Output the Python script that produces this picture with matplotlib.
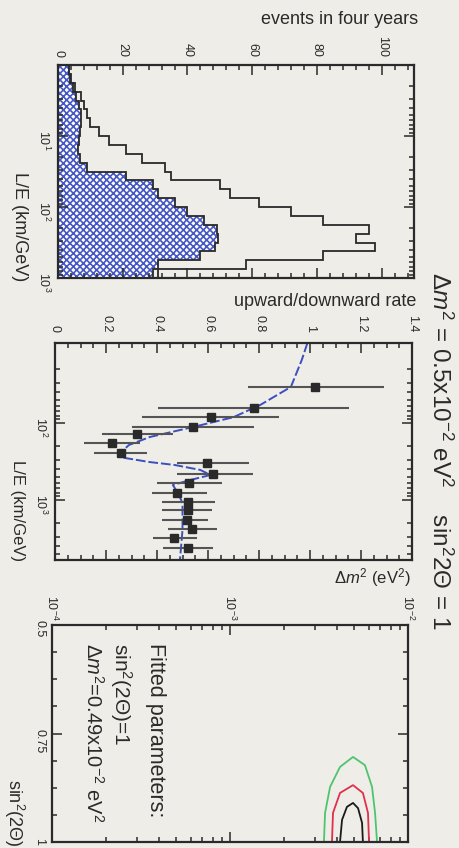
import numpy as np
import matplotlib
matplotlib.use("Agg")
import matplotlib.pyplot as plt
from matplotlib.ticker import MultipleLocator, FixedLocator, LogLocator, LogFormatterMathtext, NullFormatter

plt.rcParams["font.family"] = ["Liberation Sans", "DejaVu Sans"]
plt.rcParams["mathtext.fontset"] = "custom"
plt.rcParams["mathtext.rm"] = "Liberation Sans"
plt.rcParams["mathtext.it"] = "Liberation Sans:italic"
plt.rcParams["hatch.linewidth"] = 1.2

W, H = 459, 848
paper = "#efede8"
ink = "#2a2a2a"

# --- panel 1: events in four years, bins of 1/8 decade in L/E (km/GeV) from 1
le_edges = 10 ** np.arange(0, 3.001, 0.125)
all_events = [3.4, 4.0, 5.2, 7.0, 8.0, 9.0, 10.0, 12.6, 15.7, 21.0, 26.0, 33.0,
              35.0, 50.0, 53.0, 62.0, 72.0, 82.0, 96.0, 92.0, 98.0, 82.0, 58.0, 31.0]
up_events = [3.4, 3.7, 4.6, 5.5, 6.5, 7.0, 7.0, 6.8, 6.5, 6.2, 6.8, 9.0,
             21.0, 29.5, 31.0, 36.0, 40.0, 45.0, 49.0, 49.5, 48.6, 44.0, 31.0, 29.5]

# --- panel 2: upward/downward ratio vs L/E
ratio_le = [34, 64, 84, 113, 139, 182, 245, 330, 459, 601, 811, 1062,
            1349, 1820, 2382, 3119, 4198]
ratio_val = [1.02, 0.78, 0.61, 0.54, 0.32, 0.225, 0.257, 0.597, 0.621, 0.526,
             0.478, 0.522, 0.522, 0.518, 0.538, 0.466, 0.522]
ratio_lo = [0.755, 0.403, 0.340, 0.300, 0.186, 0.115, 0.154, 0.478, 0.478, 0.399,
            0.379, 0.419, 0.419, 0.419, 0.443, 0.383, 0.423]
ratio_hi = [1.292, 1.154, 0.877, 0.779, 0.462, 0.332, 0.360, 0.759, 0.775, 0.656,
            0.597, 0.628, 0.617, 0.601, 0.636, 0.557, 0.621]
curve_le = [9.1, 15.1, 34, 58, 84, 113, 152, 193, 238, 277, 321, 351, 407, 473,
            550, 638, 811, 1094, 2455, 6012]
curve_val = [0.99, 0.968, 0.925, 0.806, 0.70, 0.54, 0.372, 0.29, 0.26, 0.253,
             0.37, 0.47, 0.57, 0.61, 0.53, 0.462, 0.482, 0.50, 0.50, 0.49]

# --- panel 3: allowed regions (dm2 in eV^2, sin^2 2theta)
green_dm2 = [3.37e-3, 3.42e-3, 3.65e-3, 4.15e-3, 4.91e-3, 5.73e-3, 6.28e-3, 6.53e-3, 6.70e-3]
green_s2 = [1.0, 0.933, 0.873, 0.827, 0.804, 0.823, 0.873, 0.933, 1.0]
red_dm2 = [3.74e-3, 3.79e-3, 4.15e-3, 4.91e-3, 5.58e-3, 5.96e-3, 6.04e-3]
red_s2 = [1.0, 0.933, 0.887, 0.869, 0.887, 0.933, 1.0]
black_dm2 = [4.15e-3, 4.26e-3, 4.54e-3, 4.91e-3, 5.24e-3, 5.52e-3, 5.58e-3]
black_s2 = [1.0, 0.949, 0.919, 0.910, 0.922, 0.956, 1.0]


def px_axes(fig, x0, y0, x1, y1):
    return fig.add_axes([x0 / W, 1 - y1 / H, (x1 - x0) / W, (y1 - y0) / H])


def fig_text(fig, x, y, s, **kw):
    kw.setdefault("color", ink)
    fig.text(x / W, 1 - y / H, s, **kw)


def root_frame(ax, xpad=6, ypad=5):
    ax.set_facecolor(paper)
    for sp in ax.spines.values():
        sp.set_linewidth(1.6)
        sp.set_color(ink)
    ax.tick_params(which="both", direction="in", top=True, bottom=True, left=True, right=True,
                   labeltop=True, labelbottom=False, labelleft=True, labelright=False,
                   colors=ink, width=1.1, labelsize=9)
    ax.tick_params(which="major", length=7)
    ax.tick_params(which="minor", length=3.5)
    ax.tick_params(axis="x", labelrotation=-90, pad=xpad)
    ax.tick_params(axis="y", labelrotation=-90, pad=ypad)


def log_y(ax, majors):
    ax.set_yscale("log")
    ax.yaxis.set_major_locator(FixedLocator(majors))
    ax.yaxis.set_major_formatter(LogFormatterMathtext())
    ax.yaxis.set_minor_locator(LogLocator(subs=np.arange(2, 10), numticks=20))
    ax.yaxis.set_minor_formatter(NullFormatter())


fig = plt.figure(figsize=(W / 100, H / 100), dpi=100, facecolor=paper)

# panel 1
ax1 = px_axes(fig, 58, 65, 414, 278)
root_frame(ax1)
ax1.stairs(up_events, le_edges, orientation="horizontal", fill=True,
           facecolor="white", edgecolor="#4658c4", hatch="xxxxx", linewidth=0)
ax1.stairs(up_events, le_edges, orientation="horizontal", color=ink, linewidth=1.3)
ax1.stairs(all_events, le_edges, orientation="horizontal", color=ink, linewidth=1.3)
ax1.set_xlim(0, 110)
ax1.xaxis.set_major_locator(FixedLocator([0, 20, 40, 60, 80, 100]))
ax1.xaxis.set_minor_locator(MultipleLocator(4))
log_y(ax1, [10, 100, 1000])
ax1.set_ylim(1000, 1)

# panel 2
ax2 = px_axes(fig, 55, 343, 412, 560)
root_frame(ax2, xpad=8)
ax2.plot(curve_val, curve_le, color="#3b4fc0", lw=1.4, ls=(0, (5, 1.5)), zorder=2)
xerr = [np.array(ratio_val) - np.array(ratio_lo), np.array(ratio_hi) - np.array(ratio_val)]
ax2.errorbar(ratio_val, ratio_le, xerr=xerr, fmt="s", color="#2a2a2a", ecolor="#555555",
             elinewidth=1.5, ms=6, capsize=0, zorder=3)
ax2.set_xlim(0, 1.4)
ax2.xaxis.set_major_locator(FixedLocator([0, 0.2, 0.4, 0.6, 0.8, 1.0, 1.2, 1.4]))
ax2.xaxis.set_major_formatter(plt.FuncFormatter(lambda v, p: f"{v:g}"))
ax2.xaxis.set_minor_locator(MultipleLocator(0.05))
log_y(ax2, [100, 1000])
ax2.set_ylim(10 ** 3.779, 10 ** 0.961)

# panel 3
ax3 = px_axes(fig, 52, 625, 408, 842)
root_frame(ax3, xpad=3, ypad=5)
ax3.plot(green_dm2, green_s2, color="#4fc46e", lw=1.3)
ax3.plot(red_dm2, red_s2, color="#e0304c", lw=1.3)
ax3.plot(black_dm2, black_s2, color="#1a1a1a", lw=1.3)
ax3.set_xscale("log")
ax3.set_xlim(1e-4, 1e-2)
ax3.xaxis.set_major_locator(FixedLocator([1e-4, 1e-3, 1e-2]))
ax3.xaxis.set_major_formatter(LogFormatterMathtext())
ax3.xaxis.set_minor_locator(LogLocator(subs=np.arange(2, 10), numticks=20))
ax3.xaxis.set_minor_formatter(NullFormatter())
ax3.set_ylim(1.0, 0.5)
ax3.yaxis.set_major_locator(FixedLocator([0.5, 0.75, 1.0]))
ax3.yaxis.set_major_formatter(plt.FuncFormatter(lambda v, p: f"{v:g}"))
ax3.yaxis.set_minor_locator(MultipleLocator(0.0625))

# axis titles (ROOT style, right-aligned at axis ends)
fig_text(fig, 418, 20, "events in four years", fontsize=13, ha="right", va="center")
fig_text(fig, 416, 301, "upward/downward rate", fontsize=13, ha="right", va="center")
fig_text(fig, 19, 281, "L/E (km/GeV)", fontsize=13, rotation=-90, ha="center", va="bottom")
fig_text(fig, 17, 561, "L/E (km/GeV)", fontsize=12, rotation=-90, ha="center", va="bottom")
fig_text(fig, 411, 578, r"$\Delta m^2$ (eV$^2$)", fontsize=12, ha="right", va="center")
fig_text(fig, 14, 847, r"sin$^2$(2$\Theta$)", fontsize=13, rotation=-90, ha="center", va="bottom")

# title
fig_text(fig, 440, 272, r"$\Delta m^2$ = 0.5x10$^{-2}$ eV$^2$    sin$^2$2$\Theta$ = 1",
         fontsize=17.5, rotation=-90, ha="center", va="top")

# fit result text
fig_text(fig, 155, 643, "Fitted parameters:", fontsize=15.5, rotation=-90, ha="center", va="top")
fig_text(fig, 121, 643, r"sin$^2$(2$\Theta$)=1", fontsize=15, rotation=-90, ha="center", va="top")
fig_text(fig, 93, 643, r"$\Delta m^2$=0.49x10$^{-2}$ eV$^2$", fontsize=14.5, rotation=-90,
         ha="center", va="top")

fig.savefig("out.png", dpi=100, facecolor=paper)
